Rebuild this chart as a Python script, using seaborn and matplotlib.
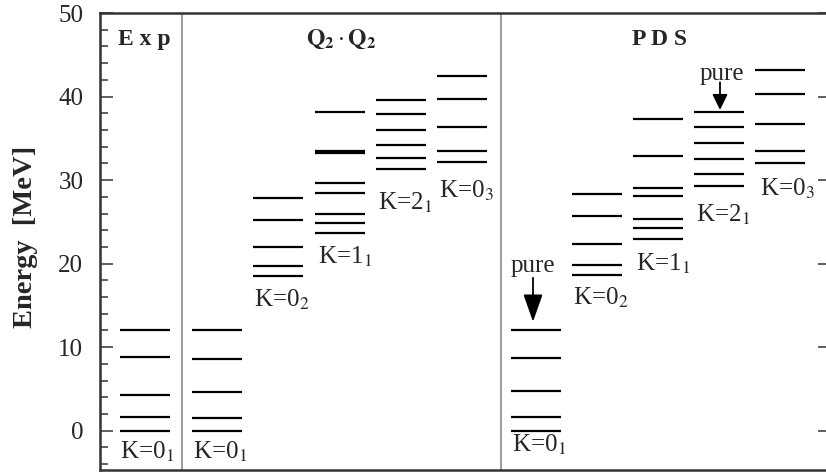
import pandas as pd
import seaborn as sns
import matplotlib.pyplot as plt
from matplotlib.ticker import MultipleLocator

# level energies (MeV)
exp_k01 = [0.0, 1.7, 4.3, 8.8, 12.0]

q_k01 = [0.0, 1.5, 4.6, 8.6, 12.1]
q_k02 = [18.5, 19.7, 22.0, 25.2, 27.8]
q_k11 = [23.7, 24.9, 26.0, 28.5, 29.6, 33.3, 33.5, 38.1]
q_k21 = [31.3, 32.6, 34.2, 36.0, 37.9, 39.6]
q_k03 = [32.2, 33.5, 36.3, 39.7, 42.5]

pds_k01 = [0.0, 1.6, 4.75, 8.7, 12.0]
pds_k02 = [18.6, 19.8, 22.4, 25.7, 28.3]
pds_k11 = [22.9, 24.3, 25.4, 28.1, 29.0, 32.9, 37.3]
pds_k21 = [29.3, 30.7, 32.5, 34.4, 36.4, 38.2]
pds_k03 = [32.1, 33.5, 36.7, 40.3, 43.2]

band_labels = ["K=0$_1$", "K=0$_1$", "K=0$_2$", "K=1$_1$", "K=2$_1$", "K=0$_3$",
               "K=0$_1$", "K=0$_2$", "K=1$_1$", "K=2$_1$", "K=0$_3$"]
# baseline of each band label (MeV)
label_y = [-3.3, -3.3, 14.9, 20.0, 26.5, 27.9, -2.55, 15.05, 19.2, 25.0, 28.1]

panel_titles = ["E x p", r"$\mathbf{Q_2}\cdot\mathbf{Q_2}$", "P D S"]

bands = [exp_k01, q_k01, q_k02, q_k11, q_k21, q_k03,
         pds_k01, pds_k02, pds_k11, pds_k21, pds_k03]

# layout (x in pixels from left spine)
centers = [44.5, 117, 178, 240, 301, 362, 435.5, 497, 558, 618.5, 679.5]
label_dx = [-24, -24, -24, -22, -23, -23, -23, -24, -22, -23, -19]
title_x = [44.5, 241, 559]
separators = [82, 401]

rows = []
for i, levels in enumerate(bands):
    for e in levels:
        rows.append({"band": i, "x": centers[i], "energy": e})
df = pd.DataFrame(rows)

sns.set_style("ticks")
plt.rcParams['font.family'] = ['Liberation Serif', 'DejaVu Serif']
plt.rcParams['mathtext.fontset'] = 'stix'

fig = plt.figure(figsize=(8.26, 4.73), dpi=100)
ax = fig.add_axes([100 / 826, 3 / 473, 731 / 826, 457 / 473])

sns.scatterplot(data=df, x="x", y="energy", marker="_", s=1296,
                color="black", linewidth=1.6, legend=False, ax=ax)

for xs in separators:
    ax.axvline(xs, color="#808080", lw=1.1, zorder=0)

for i, lab in enumerate(band_labels):
    ax.text(centers[i] + label_dx[i], label_y[i], lab, fontsize=18,
            ha="left", va="baseline")

for tx, t in zip(title_x, panel_titles):
    ax.text(tx, 46.2, t, fontsize=17, fontweight="bold",
            ha="center", va="baseline")

# "pure" markers
ax.text(433, 19.0, "pure", fontsize=18, ha="center", va="baseline")
ax.annotate("", xy=(433, 13.05), xytext=(433, 18.3),
            arrowprops=dict(arrowstyle="-|>,head_length=0.85,head_width=0.3",
                            mutation_scale=20, color="black", lw=1.3,
                            shrinkA=0, shrinkB=0))
ax.text(621.5, 42.0, "pure", fontsize=18, ha="center", va="baseline")
ax.annotate("", xy=(620, 38.4), xytext=(620, 41.7),
            arrowprops=dict(arrowstyle="-|>,head_length=0.47,head_width=0.23",
                            mutation_scale=20, color="black", lw=1.3,
                            shrinkA=0, shrinkB=0))

ax.set_xlim(0, 731)
ax.set_ylim(-4.7, 50)
ax.set_xticks([])
ax.yaxis.set_major_locator(MultipleLocator(10))
ax.yaxis.set_minor_locator(MultipleLocator(2))
ax.tick_params(axis="y", which="major", direction="in", length=9.4, width=1.1,
               labelsize=18, pad=12, right=True, color="#333333")
ax.tick_params(axis="y", which="minor", direction="in", length=5.8, width=1.1,
               right=False, color="#333333")
ax.set_xlabel("")
ax.set_ylabel("Energy  [MeV]", fontsize=20.5, fontweight="bold")
ax.yaxis.set_label_coords(-62 / 731, 0.51)

for side in ["left", "top", "bottom", "right"]:
    ax.spines[side].set_linewidth(1.8)
    ax.spines[side].set_color("#333333")

fig.savefig("out.png", dpi=100)
